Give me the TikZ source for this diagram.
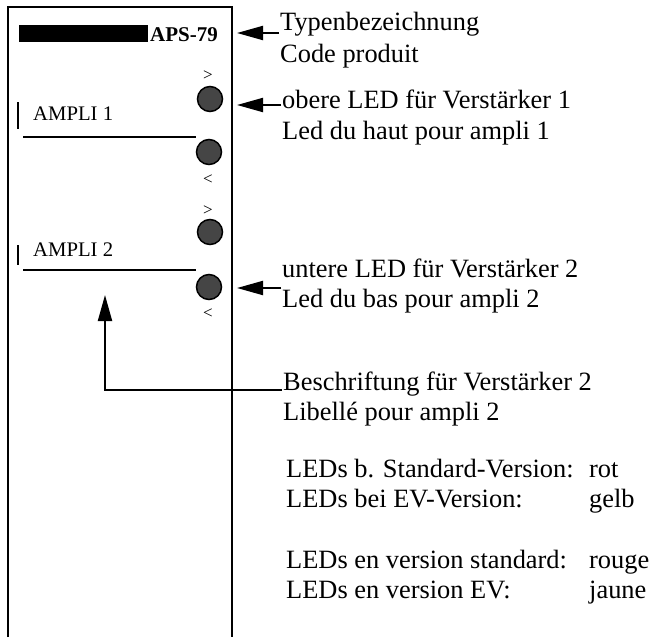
\documentclass[tikz,border=0pt]{standalone}
\usepackage{fontspec}
\setmainfont{Liberation Serif}
\usetikzlibrary{arrows.meta}
\definecolor{ledgrau}{HTML}{454545}

\begin{document}
\begin{tikzpicture}[x=1pt, y=-1pt,
		rahmen/.style={line width=2pt},
		led/.style={circle, draw, line width=1.5pt, fill=ledgrau, minimum size=25pt, inner sep=0pt},
		pfeil/.style={line width=2pt, -{Triangle[length=26pt, width=14pt]}},
		txt/.style={inner sep=1pt, anchor=base west, font=\fontsize{26.4}{30}\selectfont},
		schild/.style={inner sep=0pt, anchor=base west, font=\fontsize{20.7}{24}\selectfont},
		zeichen/.style={inner sep=0pt, font=\fontsize{17}{19}\selectfont}]
	\useasboundingbox (0,0) rectangle (650,637);
	% Gehaeuse
	\draw[rahmen] (8,637) -- (8,7) -- (232,7) -- (232,637);
	\fill (19,25) rectangle (148,42);
	\node[schild, font=\fontsize{21}{24}\selectfont\bfseries] (typ) at (150,41) {APS-79};
	% Verstaerker 1
	\draw[line width=2.5pt] (18,102) -- (18,129);
	\node[schild] (a1) at (33,120) {AMPLI 1};
	\draw[rahmen] (23,137) -- (196,137);
	\node[zeichen] (g1) at (208,76) {>};
	\node[led] (led1) at (210,99) {};
	\node[led] (led2) at (209,152) {};
	\node[zeichen] (k1) at (208,180) {<};
	% Verstaerker 2
	\draw[line width=2.5pt] (18,245) -- (18,265);
	\node[schild] (a2) at (33,256) {AMPLI 2};
	\draw[rahmen] (23,270) -- (196,270);
	\node[zeichen] (g2) at (208,211) {>};
	\node[led] (led3) at (210,232) {};
	\node[led] (led4) at (209,287) {};
	\node[zeichen] (k2) at (208,314) {<};
	% Beschriftungen
	\node[txt] (typ1) at (279,30) {Typenbezeichnung};
	\node[txt] (typ2) at (279,62) {Code produit};
	\node[txt] (ob1) at (281,108) {obere LED für Verstärker 1};
	\node[txt] (ob2) at (281,139) {Led du haut pour ampli 1};
	\node[txt] (un1) at (281,277) {untere LED für Verstärker 2};
	\node[txt] (un2) at (281,307) {Led du bas pour ampli 2};
	\node[txt] (be1) at (282,390) {Beschriftung für Verstärker 2};
	\node[txt] (be2) at (282,420) {Libellé pour ampli 2};
	\node[txt] (de1) at (285,477) {LEDs b. Standard-Version:};
	\node[txt] (de2) at (285,507) {LEDs bei EV-Version:};
	\node[txt] (rot) at (588,477) {rot};
	\node[txt] (gelb) at (588,507) {gelb};
	\node[txt] (fr1) at (285,568) {LEDs en version standard:};
	\node[txt] (fr2) at (285,598) {LEDs en version EV:};
	\node[txt] (rouge) at (588,568) {rouge};
	\node[txt] (jaune) at (588,598) {jaune};
	% Pfeile
	\coordinate (p1) at (237,33);
	\coordinate (p2) at (237,105);
	\coordinate (p3) at (237,288);
	\coordinate (p4) at (105,295);
	\draw[pfeil] (typ1.west |- p1) -- (p1);
	\draw[pfeil] (ob1.west |- p2) -- (p2);
	\draw[pfeil] (un1.west |- p3) -- (p3);
	\draw[pfeil] (be1.base west) -- (be1.base west -| p4) -- (p4);
\end{tikzpicture}
\end{document}
